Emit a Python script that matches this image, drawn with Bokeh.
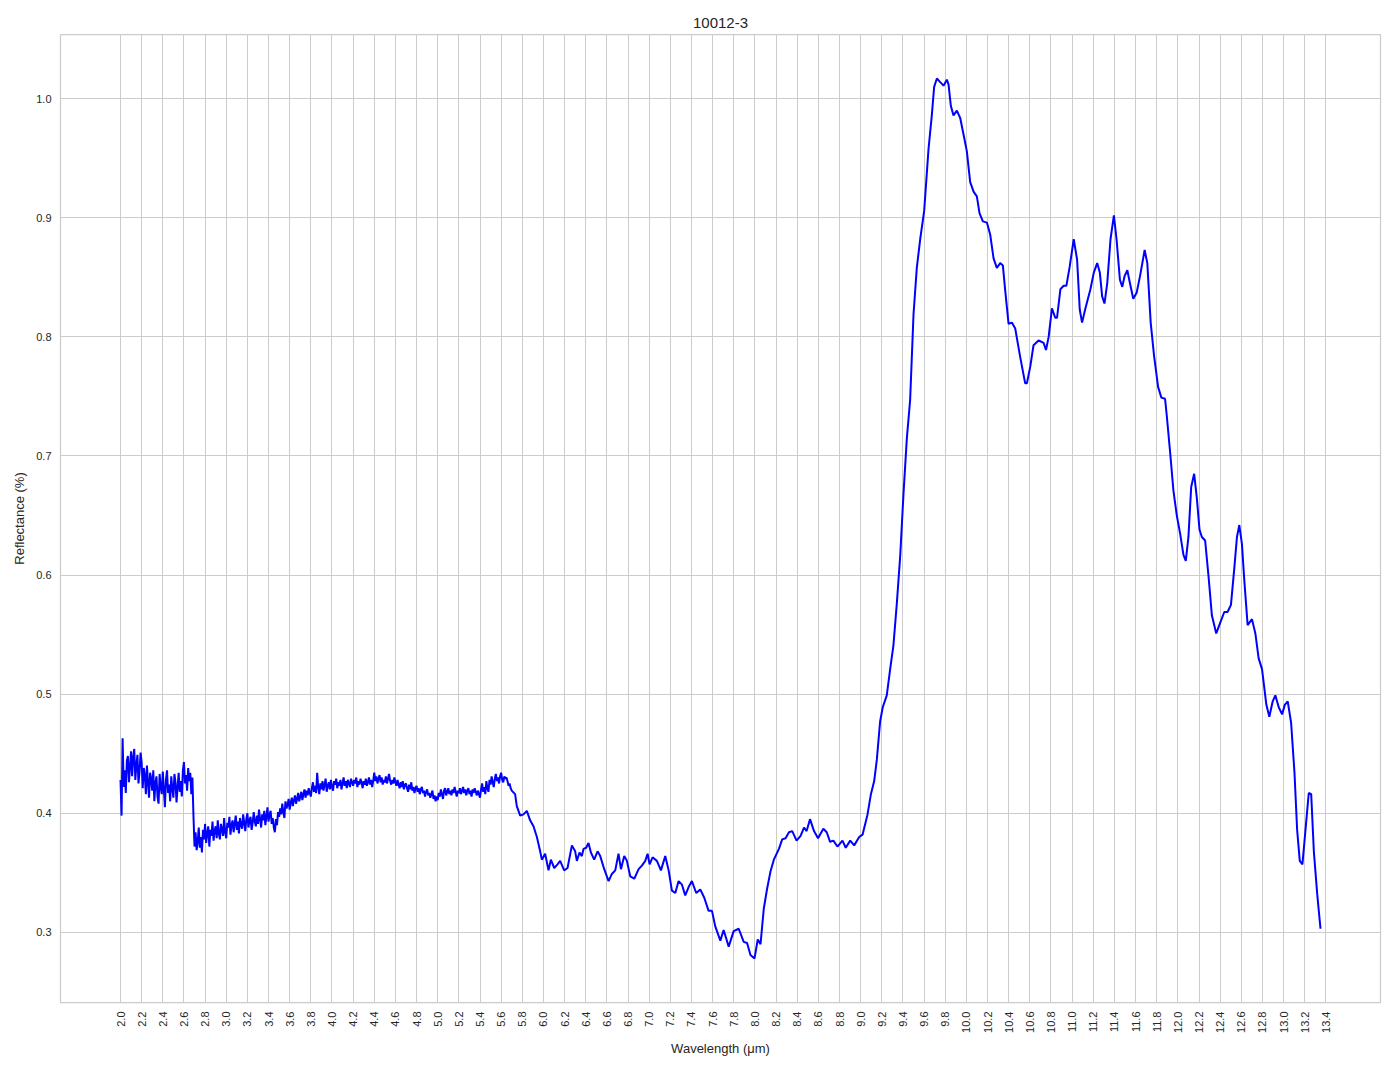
import math
from bokeh.plotting import figure
from bokeh.models import FixedTicker, Range1d, PrintfTickFormatter
from bokeh.embed import file_html
from bokeh.resources import INLINE

TITLE = "10012-3"
X_LABEL = "Wavelength (μm)"
Y_LABEL = "Reflectance (%)"

# Dense, noisy part of the spectrum (sampled every 0.01 µm from 2.00 to 3.79)
noisy_start = 2.00
noisy_step = 0.01
noisy_r = [
    0.428, 0.398, 0.463, 0.422, 0.436, 0.417, 0.444, 0.448, 0.426, 0.439,
    0.452, 0.431, 0.447, 0.454, 0.428, 0.440, 0.449, 0.425, 0.435, 0.451,
    0.443, 0.421, 0.438, 0.432, 0.416, 0.440, 0.426, 0.413, 0.434, 0.429,
    0.419, 0.436, 0.410, 0.425, 0.431, 0.414, 0.408, 0.433, 0.422, 0.416,
    0.435, 0.420, 0.405, 0.428, 0.436, 0.417, 0.424, 0.410, 0.431, 0.421,
    0.413, 0.433, 0.426, 0.409, 0.422, 0.434, 0.418, 0.427, 0.414, 0.436,
    0.443, 0.425, 0.432, 0.419, 0.438, 0.427, 0.434, 0.416, 0.430, 0.398,
    0.372, 0.384, 0.369, 0.376, 0.388, 0.371, 0.380, 0.367, 0.386, 0.378,
    0.391, 0.375, 0.383, 0.389, 0.372, 0.386, 0.381, 0.393, 0.377, 0.385,
    0.389, 0.379, 0.394, 0.383, 0.378, 0.391, 0.386, 0.381, 0.396, 0.384,
    0.379, 0.392, 0.388, 0.397, 0.382, 0.390, 0.394, 0.384, 0.391, 0.398,
    0.386, 0.393, 0.383, 0.396, 0.390, 0.387, 0.399, 0.392, 0.385, 0.395,
    0.400, 0.388, 0.394, 0.397, 0.386, 0.392, 0.401, 0.393, 0.389, 0.398,
    0.391, 0.403, 0.395, 0.388, 0.399, 0.394, 0.402, 0.390, 0.397, 0.405,
    0.393, 0.399, 0.402, 0.391, 0.396, 0.388, 0.384, 0.395, 0.390, 0.401,
    0.397, 0.404, 0.399, 0.408, 0.401, 0.396, 0.410, 0.404, 0.407, 0.412,
    0.403, 0.409, 0.413, 0.406, 0.411, 0.415, 0.408, 0.412, 0.417, 0.410,
    0.414, 0.418, 0.411, 0.416, 0.420, 0.413, 0.419, 0.415, 0.421, 0.417,
]

# Plateau with finer noise (sampled every 0.01 µm from 3.80 to 5.70)
plateau_start = 3.80
plateau_step = 0.01
plateau_r = [
    0.414, 0.421, 0.426, 0.418, 0.423, 0.417, 0.434, 0.422, 0.416, 0.425,
    0.420, 0.427, 0.419, 0.424, 0.429, 0.418, 0.423, 0.426, 0.420, 0.428,
    0.422, 0.419, 0.427, 0.424, 0.429, 0.421, 0.426, 0.423, 0.428, 0.420,
    0.425, 0.430, 0.423, 0.427, 0.421, 0.428, 0.425, 0.422, 0.429, 0.426,
    0.423, 0.428, 0.425, 0.430, 0.422, 0.427, 0.424, 0.429, 0.426, 0.421,
    0.427, 0.424, 0.429, 0.423, 0.426, 0.430, 0.424, 0.428, 0.422, 0.427,
    0.434, 0.427, 0.431, 0.425, 0.429, 0.432, 0.426, 0.430, 0.424, 0.428,
    0.426, 0.431, 0.425, 0.429, 0.433, 0.427, 0.424, 0.428, 0.425, 0.430,
    0.426, 0.423, 0.428, 0.424, 0.421, 0.426, 0.422, 0.427, 0.420, 0.424,
    0.425, 0.421, 0.418, 0.424, 0.420, 0.426, 0.419, 0.422, 0.417, 0.421,
    0.423, 0.418, 0.421, 0.416, 0.420, 0.422, 0.417, 0.419, 0.414, 0.418,
    0.420, 0.415, 0.417, 0.413, 0.416, 0.419, 0.412, 0.415, 0.410, 0.414,
    0.411, 0.417, 0.414, 0.420, 0.416, 0.412, 0.419, 0.421, 0.415, 0.418,
    0.421, 0.416, 0.419, 0.415, 0.420, 0.417, 0.422, 0.418, 0.414, 0.419,
    0.417, 0.421, 0.416, 0.419, 0.422, 0.417, 0.420, 0.415, 0.419, 0.421,
    0.416, 0.419, 0.414, 0.420, 0.417, 0.421, 0.418, 0.415, 0.419, 0.416,
    0.413, 0.420, 0.425, 0.418, 0.422, 0.416, 0.427, 0.421, 0.418, 0.428,
    0.424, 0.431, 0.426, 0.422, 0.429, 0.433, 0.427, 0.430, 0.425, 0.431,
    0.434, 0.428, 0.426, 0.431, 0.429, 0.430, 0.427, 0.423, 0.425, 0.421,
    0.419,
]

# Smoother part of the spectrum, read point by point
smooth_wl = [
    5.732, 5.748, 5.780, 5.811, 5.843, 5.874, 5.906, 5.938, 5.969, 5.985,
    6.016, 6.048, 6.070, 6.102, 6.133, 6.158, 6.196, 6.228, 6.269, 6.300,
    6.316, 6.341, 6.363, 6.379, 6.404, 6.426, 6.449, 6.480, 6.512, 6.537,
    6.575, 6.616, 6.647, 6.679, 6.710, 6.733, 6.764, 6.789, 6.821, 6.859,
    6.900, 6.931, 6.963, 6.985, 7.004, 7.032, 7.073, 7.111, 7.152, 7.184,
    7.215, 7.247, 7.278, 7.310, 7.341, 7.373, 7.404, 7.445, 7.483, 7.521,
    7.562, 7.594, 7.625, 7.673, 7.704, 7.752, 7.799, 7.847, 7.894, 7.926,
    7.958, 7.996, 8.027, 8.053, 8.084, 8.116, 8.147, 8.179, 8.227, 8.258,
    8.290, 8.322, 8.353, 8.394, 8.432, 8.464, 8.489, 8.521, 8.559, 8.597,
    8.647, 8.679, 8.711, 8.742, 8.780, 8.828, 8.859, 8.901, 8.939, 8.986,
    9.018, 9.065, 9.097, 9.128, 9.153, 9.184, 9.209, 9.247, 9.279, 9.310,
    9.342, 9.374, 9.405, 9.437, 9.468, 9.500, 9.531, 9.563, 9.601, 9.642,
    9.673, 9.695, 9.721, 9.752, 9.784, 9.815, 9.831, 9.853, 9.878, 9.910,
    9.941, 9.973, 10.004, 10.036, 10.068, 10.099, 10.124, 10.156, 10.194, 10.225,
    10.257, 10.288, 10.320, 10.345, 10.367, 10.399, 10.430, 10.462, 10.509, 10.556,
    10.572, 10.604, 10.635, 10.683, 10.730, 10.753, 10.778, 10.809, 10.841, 10.857,
    10.889, 10.920, 10.946, 10.977, 11.015, 11.047, 11.072, 11.094, 11.126, 11.173,
    11.205, 11.237, 11.262, 11.284, 11.306, 11.332, 11.363, 11.395, 11.420, 11.452,
    11.474, 11.496, 11.522, 11.547, 11.578, 11.610, 11.642, 11.686, 11.711, 11.743,
    11.775, 11.813, 11.844, 11.879, 11.895, 11.926, 11.958, 11.990, 12.021, 12.053,
    12.075, 12.100, 12.126, 12.154, 12.179, 12.205, 12.227, 12.258, 12.290, 12.322,
    12.363, 12.401, 12.439, 12.470, 12.502, 12.533, 12.559, 12.581, 12.606, 12.628,
    12.660, 12.701, 12.733, 12.764, 12.796, 12.837, 12.865, 12.897, 12.922, 12.954,
    12.986, 13.011, 13.039, 13.071, 13.103, 13.128, 13.153, 13.178, 13.207, 13.238,
    13.261, 13.286, 13.318, 13.349,
]
smooth_r = [
    0.416, 0.406, 0.398, 0.399, 0.402, 0.394, 0.389, 0.380, 0.368, 0.361,
    0.366, 0.352, 0.361, 0.354, 0.357, 0.360, 0.352, 0.354, 0.373, 0.368,
    0.360, 0.367, 0.364, 0.370, 0.371, 0.375, 0.367, 0.361, 0.368, 0.364,
    0.353, 0.343, 0.349, 0.352, 0.366, 0.353, 0.364, 0.360, 0.347, 0.345,
    0.353, 0.356, 0.360, 0.366, 0.357, 0.363, 0.360, 0.352, 0.364, 0.352,
    0.335, 0.333, 0.343, 0.340, 0.331, 0.338, 0.343, 0.333, 0.336, 0.329,
    0.318, 0.318, 0.305, 0.293, 0.302, 0.288, 0.301, 0.303, 0.292, 0.291,
    0.281, 0.278, 0.294, 0.290, 0.320, 0.337, 0.351, 0.361, 0.370, 0.378,
    0.379, 0.384, 0.385, 0.377, 0.381, 0.388, 0.385, 0.395, 0.385, 0.379,
    0.387, 0.384, 0.376, 0.377, 0.372, 0.377, 0.371, 0.377, 0.373, 0.380,
    0.382, 0.399, 0.416, 0.427, 0.445, 0.477, 0.489, 0.499, 0.521, 0.541,
    0.576, 0.616, 0.668, 0.715, 0.747, 0.819, 0.858, 0.882, 0.906, 0.958,
    0.986, 1.010, 1.017, 1.014, 1.011, 1.016, 1.012, 0.994, 0.986, 0.990,
    0.984, 0.970, 0.956, 0.930, 0.922, 0.918, 0.904, 0.897, 0.896, 0.886,
    0.866, 0.858, 0.862, 0.860, 0.839, 0.811, 0.812, 0.807, 0.783, 0.761,
    0.761, 0.775, 0.793, 0.797, 0.795, 0.789, 0.800, 0.824, 0.816, 0.816,
    0.840, 0.843, 0.843, 0.859, 0.882, 0.865, 0.823, 0.812, 0.824, 0.840,
    0.854, 0.862, 0.854, 0.834, 0.828, 0.845, 0.882, 0.902, 0.882, 0.848,
    0.842, 0.851, 0.856, 0.845, 0.832, 0.837, 0.851, 0.873, 0.862, 0.812,
    0.784, 0.758, 0.749, 0.748, 0.734, 0.704, 0.671, 0.650, 0.635, 0.617,
    0.612, 0.632, 0.674, 0.685, 0.665, 0.638, 0.632, 0.629, 0.599, 0.566,
    0.551, 0.560, 0.569, 0.569, 0.575, 0.605, 0.632, 0.642, 0.626, 0.596,
    0.558, 0.563, 0.551, 0.530, 0.521, 0.491, 0.481, 0.494, 0.499, 0.489,
    0.483, 0.491, 0.494, 0.476, 0.434, 0.386, 0.360, 0.357, 0.386, 0.417,
    0.416, 0.368, 0.332, 0.303,
]

x_ticks = [round(2.0 + 0.2 * i, 1) for i in range(58)]
y_ticks = [0.3, 0.4, 0.5, 0.6, 0.7, 0.8, 0.9, 1.0]

noisy_wl = [round(noisy_start + noisy_step * i, 3) for i in range(len(noisy_r))]
plateau_wl = [round(plateau_start + plateau_step * i, 3) for i in range(len(plateau_r))]
wl = noisy_wl + plateau_wl + smooth_wl
refl = noisy_r + plateau_r + smooth_r

# matplotlib-like 5% margins
xmin, xmax = min(wl), max(wl)
ymin, ymax = min(refl), max(refl)
xpad = 0.05 * (xmax - xmin)
ypad = 0.05 * (ymax - ymin)

FONT = "Liberation Sans"
TXT = "#262626"
GRID = "#cccccc"

p = figure(
    width=1386, height=1061,
    output_backend="svg", toolbar_location=None,
    x_range=Range1d(xmin - xpad, xmax + xpad),
    y_range=Range1d(ymin - ypad, ymax + ypad),
    min_border_left=60, min_border_right=6, min_border_top=34, min_border_bottom=59,
    title=TITLE,
)
p.background_fill_color = "white"
p.border_fill_color = "white"
p.outline_line_color = GRID
p.outline_line_width = 1.25

p.title.align = "center"
p.title.text_font = FONT
p.title.text_font_size = "15px"
p.title.text_font_style = "normal"
p.title.text_color = TXT
p.title.standoff = 14

p.line(wl, refl, line_color="#0000ff", line_width=2)

p.xaxis.ticker = FixedTicker(ticks=x_ticks)
p.yaxis.ticker = FixedTicker(ticks=y_ticks)
p.xaxis.formatter = PrintfTickFormatter(format="%.1f")
p.yaxis.formatter = PrintfTickFormatter(format="%.1f")
p.xaxis.major_label_orientation = math.pi / 2
p.xaxis.axis_label = X_LABEL
p.yaxis.axis_label = Y_LABEL

for ax in (p.xaxis, p.yaxis):
    ax.axis_line_color = None
    ax.major_tick_line_color = None
    ax.minor_tick_line_color = None
    ax.major_tick_out = 0
    ax.major_tick_in = 0
    ax.minor_tick_out = 0
    ax.major_label_text_font = FONT
    ax.major_label_text_font_size = "11px"
    ax.major_label_text_color = TXT
    ax.axis_label_text_font = FONT
    ax.axis_label_text_font_size = "13px"
    ax.axis_label_text_font_style = "normal"
    ax.axis_label_text_color = TXT
    ax.major_label_standoff = 9
p.xaxis.axis_label_standoff = 5
p.yaxis.axis_label_standoff = 6

p.xgrid.grid_line_color = GRID
p.ygrid.grid_line_color = GRID
p.xgrid.grid_line_width = 1
p.ygrid.grid_line_width = 1

open("out.html", "w").write(file_html(p, INLINE))
